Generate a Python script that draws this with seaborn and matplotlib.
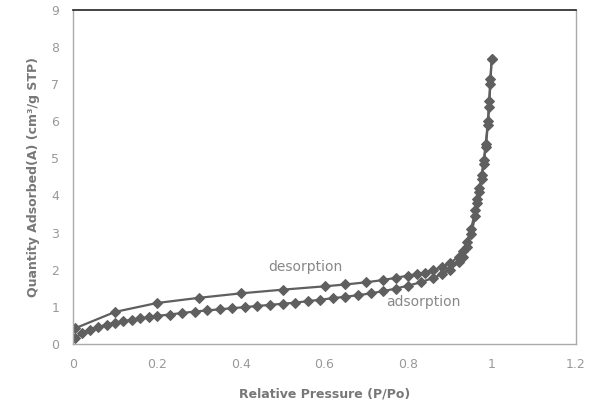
import matplotlib
matplotlib.use("Agg")
import matplotlib.pyplot as plt
import seaborn as sns
import pandas as pd

ads_x = [0.005, 0.02, 0.04, 0.06, 0.08, 0.10, 0.12, 0.14, 0.16, 0.18, 0.20, 0.23, 0.26,
         0.29, 0.32, 0.35, 0.38, 0.41, 0.44, 0.47, 0.50, 0.53, 0.56, 0.59, 0.62, 0.65,
         0.68, 0.71, 0.74, 0.77, 0.80, 0.83, 0.86, 0.88, 0.90, 0.92, 0.93, 0.94, 0.95,
         0.96, 0.965, 0.97, 0.975, 0.98, 0.985, 0.99, 0.993, 0.996, 0.999]
ads_y = [0.15, 0.28, 0.38, 0.45, 0.52, 0.57, 0.61, 0.65, 0.69, 0.72, 0.75, 0.79, 0.83,
         0.87, 0.90, 0.93, 0.96, 0.99, 1.02, 1.05, 1.08, 1.11, 1.15, 1.19, 1.23, 1.27,
         1.31, 1.36, 1.42, 1.49, 1.57, 1.66, 1.78, 1.88, 2.00, 2.20, 2.35, 2.60, 2.95,
         3.45, 3.80, 4.10, 4.45, 4.85, 5.30, 5.90, 6.40, 7.00, 7.68]
des_x = [0.999, 0.996, 0.993, 0.99, 0.985, 0.98, 0.975, 0.97, 0.965, 0.96, 0.95, 0.94,
         0.93, 0.92, 0.90, 0.88, 0.86, 0.84, 0.82, 0.80, 0.77, 0.74, 0.70, 0.65, 0.60,
         0.50, 0.40, 0.30, 0.20, 0.10, 0.005]
des_y = [7.68, 7.15, 6.55, 6.0, 5.4, 4.95, 4.55, 4.2, 3.9, 3.6, 3.1, 2.75, 2.50,
         2.35, 2.18, 2.07, 1.98, 1.92, 1.88, 1.84, 1.78, 1.72, 1.66, 1.60, 1.55,
         1.46, 1.36, 1.24, 1.10, 0.86, 0.42]

x_ticks = [0, 0.2, 0.4, 0.6, 0.8, 1, 1.2]
x_tick_labels = ["0", "0.2", "0.4", "0.6", "0.8", "1", "1.2"]
y_ticks = list(range(0, 10))

df_ads = pd.DataFrame({"p": ads_x, "q": ads_y})
df_des = pd.DataFrame({"p": des_x, "q": des_y})

sns.set_style("white")
plt.rcParams['font.family'] = ['DejaVu Sans']

fig = plt.figure(figsize=(5.9, 4.04), dpi=100)
ax = fig.add_axes([0.124, 0.149, 0.852, 0.826])

col = "#5f5f5f"
sns.lineplot(data=df_ads, x="p", y="q", sort=False, ax=ax, color=col, lw=1.6,
             marker="D", markersize=5.5, markeredgecolor=col, markerfacecolor=col)
sns.lineplot(data=df_des, x="p", y="q", sort=False, ax=ax, color=col, lw=1.6,
             marker="D", markersize=5.5, markeredgecolor=col, markerfacecolor=col)

ax.set_xlim(0, 1.2)
ax.set_ylim(0, 9)
ax.set_xticks(x_ticks)
ax.set_xticklabels(x_tick_labels)
ax.set_yticks(y_ticks)
ax.tick_params(axis="both", labelsize=9, colors="#999999", length=0, pad=10)
for s in ["left", "bottom", "right"]:
    ax.spines[s].set_color("#aaaaaa")
    ax.spines[s].set_linewidth(1)
ax.spines["top"].set_color("#222222")
ax.spines["top"].set_linewidth(1.2)

ax.set_xlabel("Relative Pressure (P/Po)", fontsize=9, color="#777777",
              fontweight="bold", labelpad=12)
ax.set_ylabel("Quantity Adsorbed(A) (cm³/g STP)", fontsize=9, color="#777777",
              fontweight="bold", labelpad=8)

ax.text(0.555, 2.08, "desorption", fontsize=10, color="#888888", ha="center", va="center")
ax.text(0.835, 1.12, "adsorption", fontsize=10, color="#888888", ha="center", va="center")

fig.savefig("out.png", dpi=100)
